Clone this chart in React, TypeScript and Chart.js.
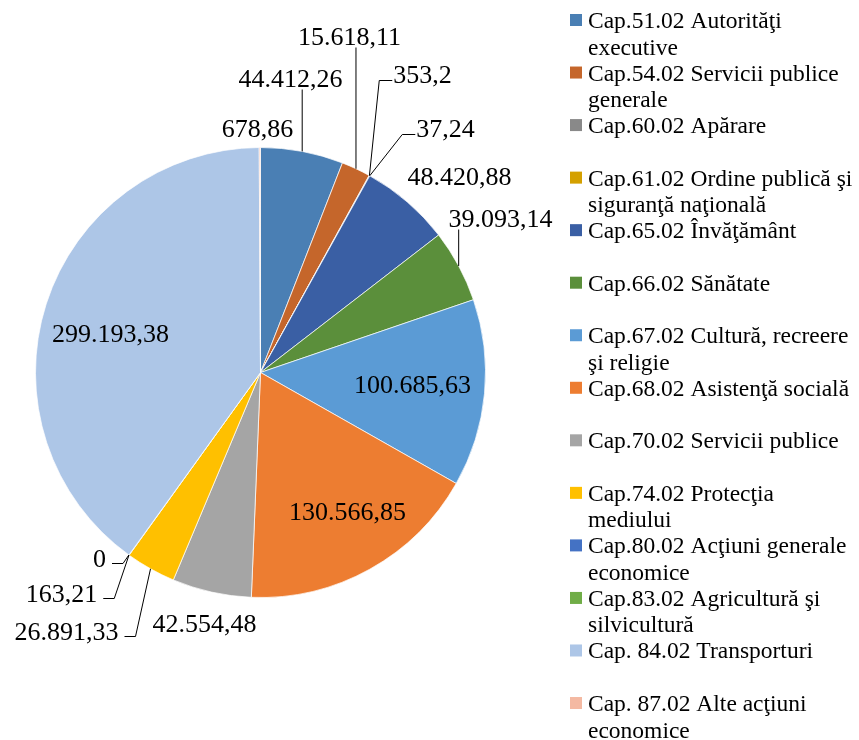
import React, { useEffect, useRef } from 'react';
import { Chart, registerables } from 'chart.js';

Chart.register(...registerables);

const FONT = '"Liberation Serif", "Times New Roman", serif';

// ---- data ----
const categories: string[] = [
  'Cap.51.02 Autorităţi\nexecutive',
  'Cap.54.02 Servicii publice\ngenerale',
  'Cap.60.02 Apărare',
  'Cap.61.02 Ordine publică şi\nsiguranţă naţională',
  'Cap.65.02 Învăţământ',
  'Cap.66.02 Sănătate',
  'Cap.67.02 Cultură, recreere\nşi religie',
  'Cap.68.02 Asistenţă socială',
  'Cap.70.02 Servicii publice',
  'Cap.74.02 Protecţia\nmediului',
  'Cap.80.02 Acţiuni generale\neconomice',
  'Cap.83.02 Agricultură şi\nsilvicultură',
  'Cap. 84.02 Transporturi',
  'Cap. 87.02 Alte acţiuni\neconomice',
];

const values: number[] = [
  44412.26, 15618.11, 353.2, 37.24, 48420.88, 39093.14, 100685.63,
  130566.85, 42554.48, 26891.33, 163.21, 0, 299193.38, 678.86,
];

const colors: string[] = [
  '#4A7FB4', '#C5662B', '#898989', '#D4A000', '#3A5FA4', '#5B8F3B', '#5B9BD5',
  '#ED7D31', '#A5A5A5', '#FFC000', '#4472C4', '#70AD47', '#ADC6E7', '#F4B9A2',
];

// ---- label placement (presentation only): offset of label centre / baseline from pie centre ----
const labelOffsets: [number, number][] = [
  [30, -286], [89, -328], [162, -290], [185, -236], [199, -188], [240, -146],
  [152, 20], [87, 147], [-56, 259], [-194, 267], [-199, 229], [-161, 194],
  [-150, -31], [-3, -236],
];
// v = vertical leader, l = elbow with label on right, r = elbow with label on left, n = none
const leaderKinds: string[] = ['v', 'v', 'l', 'l', 'n', 'v', 'n', 'n', 'n', 'r', 'r', 'r', 'n', 'n'];

function fmt(v: number): string {
  const abs = Math.abs(v);
  let intPart = Math.floor(abs);
  let frac = Math.round((abs - intPart) * 100);
  if (frac === 100) {
    intPart += 1;
    frac = 0;
  }
  const intStr = intPart.toString().replace(/\B(?=(\d{3})+(?!\d))/g, '.');
  let fracStr = '';
  if (frac > 0) {
    fracStr = ',' + (frac % 10 === 0 ? String(frac / 10) : String(frac).padStart(2, '0'));
  }
  return (v < 0 ? '-' : '') + intStr + fracStr;
}

const LEGEND_X = 570;
const LEGEND_TOP = 20;
const LEGEND_STEP = 52.54;

const overlayPlugin = {
  id: 'overlay',
  afterDraw(chart: any) {
    const ctx: CanvasRenderingContext2D = chart.ctx;
    const meta = chart.getDatasetMeta(0);
    ctx.save();
    ctx.fillStyle = '#000';
    ctx.strokeStyle = '#000';
    ctx.lineWidth = 1;
    ctx.font = `26px ${FONT}`;
    ctx.textAlign = 'center';
    ctx.textBaseline = 'alphabetic';
    meta.data.forEach((arc: any, i: number) => {
      const { x, y, startAngle, endAngle, outerRadius } = arc.getProps(
        ['x', 'y', 'startAngle', 'endAngle', 'outerRadius'],
        true
      );
      const mid = (startAngle + endAngle) / 2;
      const ax = x + outerRadius * Math.cos(mid);
      const ay = y + outerRadius * Math.sin(mid);
      const [dx, dy] = labelOffsets[i];
      const tx = x + dx;
      const ty = y + dy;
      const text = fmt(values[i]);
      const w = ctx.measureText(text).width;
      ctx.fillText(text, tx, ty);
      const kind = leaderKinds[i];
      ctx.beginPath();
      if (kind === 'v') {
        ctx.moveTo(ax, ty + 3);
        ctx.lineTo(ax, ay);
      } else if (kind === 'l') {
        const ly = ty - 2;
        const left = tx - w / 2;
        ctx.moveTo(left - 1, ly);
        ctx.lineTo(left - 14, ly);
        ctx.lineTo(ax, ay);
      } else if (kind === 'r') {
        const ly = ty - 3;
        const right = tx + w / 2;
        ctx.moveTo(right + 6, ly);
        ctx.lineTo(right + 17, ly);
        ctx.lineTo(ax, ay);
      }
      ctx.stroke();
    });

    // legend
    ctx.textAlign = 'left';
    ctx.font = `23.5px ${FONT}`;
    categories.forEach((cat, i) => {
      const cy = LEGEND_TOP + LEGEND_STEP * i;
      ctx.fillStyle = colors[i];
      ctx.fillRect(LEGEND_X, cy - 6, 12, 12);
      ctx.fillStyle = '#000';
      cat.split('\n').forEach((line, j) => {
        ctx.fillText(line, LEGEND_X + 18, cy + 8 + j * 26.5);
      });
    });
    ctx.restore();
  },
};

export default function App() {
  const ref = useRef<HTMLCanvasElement>(null);
  useEffect(() => {
    const chart = new Chart(ref.current as HTMLCanvasElement, {
      type: 'pie',
      data: {
        labels: categories.map((c) => c.replace('\n', ' ')),
        datasets: [
          {
            data: values,
            backgroundColor: colors,
            borderColor: 'rgba(255,255,255,0.7)',
            borderWidth: 1,
          },
        ],
      },
      options: {
        responsive: false,
        animation: false,
        layout: { padding: { left: 35, top: 147, right: 373, bottom: 142 } },
        plugins: {
          legend: { display: false },
          tooltip: { enabled: false },
        },
      },
      plugins: [overlayPlugin],
    });
    return () => chart.destroy();
  }, []);
  return (
    <div style={{ position: 'fixed', left: 0, top: 0, width: 859, height: 740, background: '#fff' }}>
      <canvas ref={ref} width={859} height={740} style={{ display: 'block', width: 859, height: 740 }} />
    </div>
  );
}
